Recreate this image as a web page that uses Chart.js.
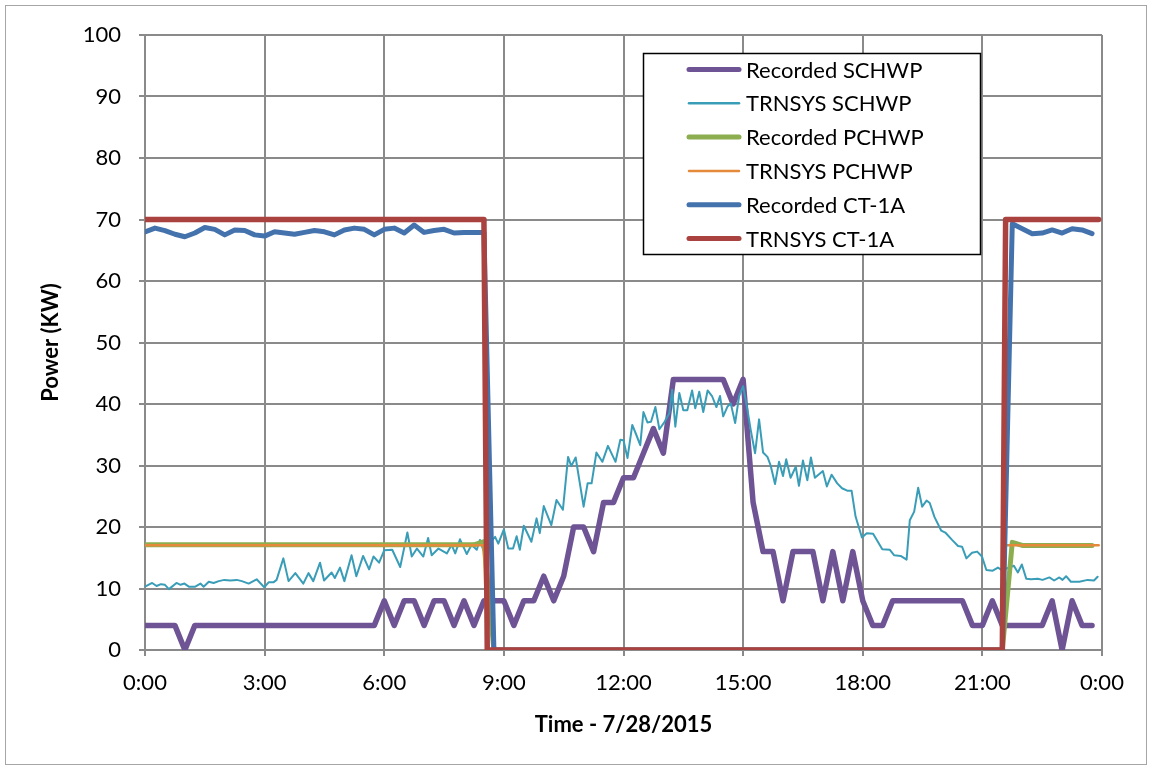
<!DOCTYPE html>
<html>
<head>
<meta charset="utf-8">
<script src="https://cdn.jsdelivr.net/npm/chart.js@4.4.1/dist/chart.umd.min.js"></script>
<style>
  body { margin: 0; background: #fff; }
  canvas { display: block; }
</style>
</head>
<body>
<canvas id="pumps" width="1152" height="770"></canvas>
<script>
// recorded data is logged every 15 minutes starting at 0:00
const recSchwp = [
  4, 4, 4, 4,   0, 4, 4, 4,   4, 4, 4, 4,   4, 4, 4, 4,
  4, 4, 4, 4,   4, 4, 4, 4,   8, 4, 8, 8,   4, 8, 8, 4,
  8, 4, 8, 8,   8, 4, 8, 8,   12, 8, 12, 20,   20, 16, 24, 24,
  28, 28, 32, 36,   32, 44, 44, 44,   44, 44, 44, 40,   44, 24, 16, 16,
  8, 16, 16, 16,   8, 16, 8, 16,   8, 4, 4, 8,   8, 8, 8, 8,
  8, 8, 8, 4,   4, 8, 4, 4,   4, 4, 4, 8,   0, 8, 4, 4
];
const recPchwp = [
  17.1, 17.1, 17.1, 17.1,   17.1, 17.1, 17.1, 17.1,   17.1, 17.1, 17.1, 17.1,   17.1, 17.1, 17.1, 17.1,
  17.1, 17.1, 17.1, 17.1,   17.1, 17.1, 17.1, 17.1,   17.1, 17.1, 17.1, 17.1,   17.1, 17.1, 17.1, 17.1,
  17.1, 17.1, 17.6, 0,   0, 0, 0, 0,   0, 0, 0, 0,   0, 0, 0, 0,
  0, 0, 0, 0,   0, 0, 0, 0,   0, 0, 0, 0,   0, 0, 0, 0,
  0, 0, 0, 0,   0, 0, 0, 0,   0, 0, 0, 0,   0, 0, 0, 0,
  0, 0, 0, 0,   0, 0, 0, 17.5,   17, 17, 17, 17,   17, 17, 17, 17
];
const recCt1a = [
  68.0, 68.6, 68.2, 67.6,   67.2, 67.8, 68.7, 68.4,   67.5, 68.3, 68.2, 67.5,   67.3, 68.0, 67.8, 67.6,
  67.9, 68.2, 68.0, 67.5,   68.3, 68.6, 68.4, 67.5,   68.4, 68.6, 67.8, 69.1,   67.9, 68.2, 68.4, 67.8,
  67.9, 67.9, 67.9, 0,   0, 0, 0, 0,   0, 0, 0, 0,   0, 0, 0, 0,
  0, 0, 0, 0,   0, 0, 0, 0,   0, 0, 0, 0,   0, 0, 0, 0,
  0, 0, 0, 0,   0, 0, 0, 0,   0, 0, 0, 0,   0, 0, 0, 0,
  0, 0, 0, 0,   0, 0, 0, 69.3,   68.5, 67.7, 67.8, 68.3,   67.8, 68.5, 68.3, 67.7
];
const recHours = recSchwp.map((v, i) => i / 4);

// TRNSYS output, hour of day and kW
const simSchwpHours = [
  0.0, 0.18, 0.29, 0.4, 0.5, 0.6, 0.79, 0.89, 0.99, 1.1, 1.26, 1.39, 1.47, 1.6, 1.72, 1.85, 1.99,
  2.14, 2.3, 2.43, 2.6, 2.8, 2.99, 3.1, 3.22, 3.3, 3.47, 3.6, 3.77, 3.97, 4.1, 4.22, 4.39, 4.49,
  4.68, 4.76, 4.89, 5.0, 5.18, 5.3, 5.47, 5.62, 5.73, 5.87, 6.0, 6.2, 6.4, 6.58, 6.69, 6.82, 6.98,
  7.1, 7.19, 7.36, 7.57, 7.69, 7.78, 7.9, 8.07, 8.19, 8.32, 8.4, 8.48, 8.62, 8.78, 8.86, 9.0,
  9.11, 9.23, 9.32, 9.4, 9.5, 9.61, 9.69, 9.82, 9.9, 10.0, 10.19, 10.32, 10.48, 10.61, 10.69, 10.8,
  11.0, 11.1, 11.2, 11.32, 11.47, 11.61, 11.8, 11.92, 12.0, 12.1, 12.22, 12.32, 12.42, 12.5, 12.6,
  12.69, 12.8, 12.9, 13.03, 13.15, 13.22, 13.3, 13.4, 13.5, 13.6, 13.72, 13.8, 13.9, 14.0, 14.11,
  14.22, 14.33, 14.42, 14.5, 14.61, 14.69, 14.8, 14.9, 15.0, 15.11, 15.19, 15.3, 15.4, 15.5, 15.61,
  15.69, 15.8, 15.9, 16.0, 16.08, 16.19, 16.32, 16.4, 16.5, 16.61, 16.7, 16.8, 17.0, 17.1, 17.22,
  17.36, 17.48, 17.61, 17.72, 17.82, 17.98, 18.1, 18.26, 18.49, 18.68, 18.79, 18.95, 19.1, 19.18,
  19.29, 19.39, 19.49, 19.6, 19.68, 19.8, 19.97, 20.07, 20.24, 20.39, 20.49, 20.6, 20.74, 20.87,
  20.99, 21.1, 21.26, 21.39, 21.49, 21.62, 21.79, 21.89, 21.99, 22.1, 22.22, 22.39, 22.51, 22.68,
  22.8, 22.93, 23.01, 23.1, 23.22, 23.43, 23.64, 23.8, 23.89
];
const simSchwp = [
  10.3, 10.9, 10.4, 10.7, 10.6, 9.9, 10.9, 10.6, 10.8, 10.3, 10.3, 10.8, 10.3, 11.1, 10.9, 11.2, 11.4,
  11.3, 11.4, 11.2, 10.8, 11.5, 10.2, 11.0, 11.0, 11.4, 14.9, 11.2, 12.5, 10.8, 12.5, 11.2, 14.2, 11.3,
  12.6, 11.7, 13.4, 11.2, 15.4, 12.0, 15.3, 13.1, 15.2, 14.2, 16.2, 16.3, 13.5, 19.1, 15.2, 16.5, 15.2,
  18.2, 15.4, 16.5, 15.7, 17.1, 15.7, 18.0, 15.6, 17.1, 16.3, 17.9, 16.3, 17.2, 18.4, 17.3, 19.6,
  16.5, 16.5, 18.5, 16.3, 20.2, 18.7, 17.6, 21.4, 19.0, 23.4, 20.3, 24.4, 22.8, 31.4, 29.9, 31.3,
  23.3, 27.1, 27.1, 32.1, 30.6, 33.2, 30.6, 34.2, 34.1, 31.2, 36.6, 35.0, 33.3, 38.7, 37.0,
  37.1, 39.5, 35.9, 37.1, 38.5, 42.3, 36.3, 41.8, 39.0, 39.0, 42.2, 39.3, 42.0, 38.7, 42.2,
  41.3, 39.5, 41.3, 38.0, 39.6, 40.1, 36.9, 41.3, 42.9, 39.0, 35.8, 32.0, 37.5, 32.1, 31.4,
  30.0, 27.0, 30.6, 28.3, 31.0, 28.0, 29.8, 26.7, 30.8, 27.6, 31.3, 28.0, 29.1, 26.6, 28.5,
  27.1, 26.3, 25.9, 25.9, 21.7, 18.3, 19.0, 18.9, 16.4, 16.3, 15.4, 15.3, 14.7, 21.1,
  22.5, 26.4, 23.3, 24.3, 23.9, 21.6, 19.4, 19.1, 17.9, 16.9, 16.8, 14.9, 15.8, 16.0,
  15.2, 13.0, 12.9, 13.4, 13.0, 13.3, 13.7, 12.6, 13.9, 11.6, 11.5, 11.6, 11.4, 11.8,
  11.3, 11.8, 11.4, 12.0, 11.1, 11.1, 11.4, 11.3, 11.9
];
// simulated pump and tower power only switch between off and a fixed load
const simSwitchHours = [0, 8.5, 8.583, 21.5, 21.583, 23.917];
const simPchwp = [17.05, 17.05, 0, 0, 17.05, 17.05];
const simCt1a = [70, 70, 0, 0, 70, 70];

const xTicks = ['0:00', '3:00', '6:00', '9:00', '12:00', '15:00', '18:00', '21:00', '0:00'];

function pairs(xs, ys) {
  return ys.map((y, i) => ({ x: xs[i], y: y }));
}

function series(label, xs, ys, color, width, order) {
  return {
    label: label,
    data: pairs(xs, ys),
    borderColor: color,
    backgroundColor: color,
    borderWidth: width,
    pointRadius: 0,
    tension: 0,
    borderJoinStyle: 'round',
    borderCapStyle: 'round',
    order: order
  };
}

const font = { family: 'Lato', size: 22 };
const boldFont = { family: 'Lato', size: 22, weight: 'bold' };
const gridGray = '#8a8a8a';

// boxed legend sitting inside the plot, upper right
const plotLegend = {
  id: 'plotLegend',
  afterDraw(chart) {
    const c = chart.ctx;
    c.save();
    c.fillStyle = '#fff';
    c.fillRect(643.5, 53.5, 337, 201);
    c.strokeStyle = '#000';
    c.lineWidth = 1.5;
    c.strokeRect(643.5, 53.5, 337, 201);
    chart.data.datasets.forEach((ds, i) => {
      const y = 69.5 + i * 33.8;
      c.strokeStyle = ds.borderColor;
      c.lineWidth = ds.borderWidth > 3 ? 5 : 2.5;
      c.lineCap = 'round';
      c.beginPath();
      c.moveTo(689, y);
      c.lineTo(739, y);
      c.stroke();
      c.fillStyle = '#000';
      c.font = '22px Lato';
      c.textBaseline = 'middle';
      c.fillText(ds.label, 746, y + 1);
    });
    c.restore();
  }
};

// thin outline around the whole chart
const outline = {
  id: 'outline',
  beforeDraw(chart) {
    const c = chart.ctx;
    c.save();
    c.fillStyle = '#fff';
    c.fillRect(0, 0, chart.width, chart.height);
    c.strokeStyle = '#a6a6a6';
    c.lineWidth = 1;
    c.strokeRect(5.5, 5.5, chart.width - 11, chart.height - 11);
    c.restore();
  }
};

new Chart(document.getElementById('pumps'), {
  type: 'line',
  data: {
    datasets: [
      series('Recorded SCHWP', recHours, recSchwp, '#6e5494', 5.5, 6),
      series('TRNSYS SCHWP', simSchwpHours, simSchwp, '#3a9db8', 2, 5),
      series('Recorded PCHWP', recHours, recPchwp, '#8cae4e', 5, 4),
      series('TRNSYS PCHWP', simSwitchHours, simPchwp, '#e58a3a', 2.5, 3),
      series('Recorded CT-1A', recHours, recCt1a, '#4472ad', 5, 2),
      series('TRNSYS CT-1A', simSwitchHours, simCt1a, '#aa423f', 5.5, 1)
    ]
  },
  options: {
    responsive: false,
    animation: false,
    layout: { padding: { left: 0, right: 50, top: 35, bottom: 0 } },
    plugins: {
      legend: { display: false },
      tooltip: { enabled: false }
    },
    scales: {
      x: {
        type: 'linear',
        min: 0,
        max: 24,
        afterFit: s => { s.height = 120; },
        afterBuildTicks: s => { s.ticks = xTicks.map((t, i) => ({ value: i * 3 })); },
        ticks: {
          color: '#000',
          font: font,
          padding: 14,
          maxRotation: 0,
          autoSkip: false,
          callback: (v, i) => xTicks[i]
        },
        grid: { color: gridGray, lineWidth: 2, tickLength: 6 },
        border: { color: gridGray, width: 2 },
        title: {
          display: true,
          text: 'Time - 7/28/2015',
          color: '#000',
          font: boldFont,
          padding: { top: 0, bottom: 32 }
        }
      },
      y: {
        min: 0,
        max: 100,
        afterFit: s => { s.width = 145; },
        ticks: { stepSize: 10, color: '#000', font: font, padding: 18 },
        grid: { color: gridGray, lineWidth: 2, tickLength: 6 },
        border: { color: gridGray, width: 2 },
        title: {
          display: true,
          text: 'Power (KW)',
          color: '#000',
          font: boldFont,
          padding: { top: 38, bottom: 0 }
        }
      }
    }
  },
  plugins: [outline, plotLegend]
});
</script>
</body>
</html>
